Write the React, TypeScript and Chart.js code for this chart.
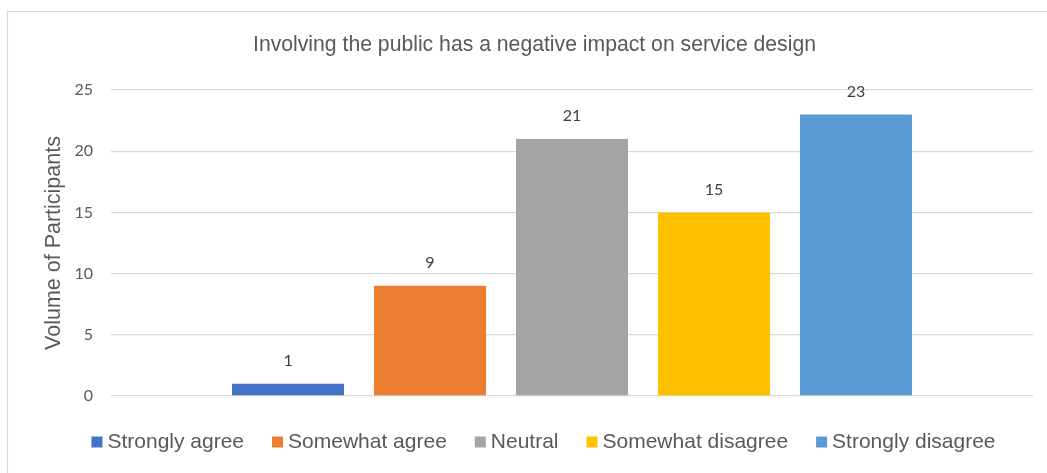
import React, { useEffect, useRef } from "react";
import { Chart, registerables } from "chart.js";

Chart.register(...registerables);

const chartTitle = "Involving the public has a negative impact on service design";
const yAxisTitle = "Volume of Participants";
const categories = [""];
const seriesNames = ["Strongly agree", "Somewhat agree", "Neutral", "Somewhat disagree", "Strongly disagree"];
const seriesValues = [1, 9, 21, 15, 23];
const seriesColors = ["#4472C4", "#ED7D31", "#A5A5A5", "#FFC000", "#5B9BD5"];
const yTicks = [0, 5, 10, 15, 20, 25];

const TEXT = "#595959";
const SANS = "'Liberation Sans', Arial, sans-serif";
const NUM = "Lato, 'Open Sans', sans-serif";

const decorPlugin = {
  id: "excelDecor",
  beforeDraw(chart: any) {
    const ctx = chart.ctx;
    ctx.save();
    ctx.fillStyle = "#ffffff";
    ctx.fillRect(0, 0, chart.width, chart.height);
    ctx.strokeStyle = "#D9D9D9";
    ctx.lineWidth = 1.2;
    ctx.strokeRect(7.5, 11.5, chart.width + 20, chart.height + 20);
    ctx.restore();
  },
  afterDraw(chart: any) {
    const ctx = chart.ctx;
    ctx.save();
    // title
    ctx.fillStyle = TEXT;
    ctx.font = `21.2px ${SANS}`;
    ctx.textAlign = "center";
    ctx.textBaseline = "middle";
    ctx.fillText(chartTitle, 534.5, 45);

    // data labels
    ctx.font = `16px ${NUM}`;
    ctx.fillStyle = "#404040";
    chart.data.datasets.forEach((ds: any, i: number) => {
      const meta = chart.getDatasetMeta(i);
      meta.data.forEach((bar: any, j: number) => {
        ctx.fillText(String(ds.data[j]), bar.x, bar.y - 23);
      });
    });

    // legend
    ctx.font = `21px ${SANS}`;
    ctx.textAlign = "left";
    const box = 11;
    const gap = 5;
    const spacing = 28;
    const items = chart.data.datasets.map((ds: any) => ({
      label: ds.label,
      color: ds.backgroundColor,
      w: ctx.measureText(ds.label).width,
    }));
    const total = items.reduce((s: number, it: any) => s + box + gap + it.w, 0) + spacing * (items.length - 1);
    let x = 543.5 - total / 2;
    const cy = 442;
    items.forEach((it: any) => {
      ctx.fillStyle = it.color;
      ctx.fillRect(x, cy - 5.5, box, box);
      ctx.fillStyle = TEXT;
      ctx.fillText(it.label, x + box + gap, cy);
      x += box + gap + it.w + spacing;
    });
    ctx.restore();
  },
};

export default function App() {
  const ref = useRef<HTMLCanvasElement | null>(null);
  useEffect(() => {
    if (!ref.current) return;
    const chart = new Chart(ref.current, {
      type: "bar",
      data: {
        labels: categories,
        datasets: seriesNames.map((name, i) => ({
          label: name,
          data: [seriesValues[i]],
          backgroundColor: seriesColors[i],
          borderWidth: 0,
          categoryPercentage: 0.77,
          barPercentage: 0.789,
        })),
      },
      options: {
        animation: false,
        responsive: false,
        maintainAspectRatio: false,
        layout: { padding: { left: 9, right: 14, top: 90, bottom: 77 } },
        plugins: {
          legend: { display: false },
          title: { display: false },
          tooltip: { enabled: false },
        },
        scales: {
          x: { display: false },
          y: {
            min: 0,
            max: 25,
            afterFit: (scale: any) => {
              scale.width = 102;
            },
            afterBuildTicks: (scale: any) => {
              scale.ticks = yTicks.map((v) => ({ value: v }));
            },
            border: { display: false },
            grid: { color: "#D9D9D9", lineWidth: 1.3, drawTicks: false },
            ticks: {
              padding: 18,
              color: TEXT,
              font: { family: NUM, size: 16 },
            },
            title: {
              display: true,
              text: yAxisTitle,
              color: TEXT,
              font: { family: SANS, size: 21.5 },
              padding: { top: 32, bottom: 0 },
            },
          },
        },
      },
      plugins: [decorPlugin],
    });
    return () => chart.destroy();
  }, []);
  return (
    <div style={{ position: "fixed", left: 0, top: 0, width: 1047, height: 473 }}>
      <canvas ref={ref} width={1047} height={473} style={{ width: 1047, height: 473 }} />
    </div>
  );
}
